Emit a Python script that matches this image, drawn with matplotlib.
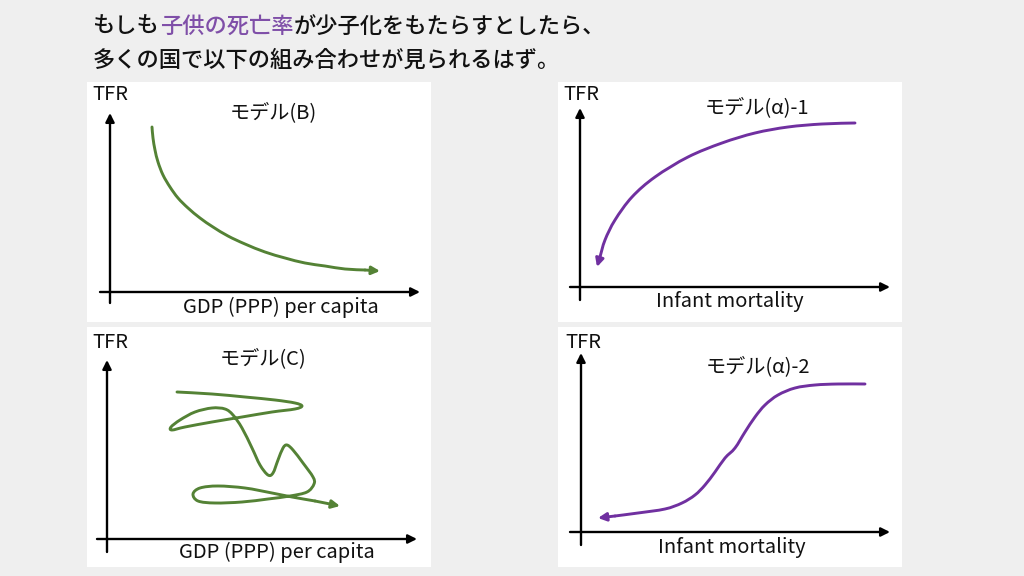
import matplotlib
matplotlib.use('Agg')
import matplotlib.pyplot as plt
from matplotlib.path import Path
from matplotlib.patches import PathPatch

plt.rcParams['font.family'] = ['Noto Sans CJK JP', 'DejaVu Sans']

BG = '#efefef'
GREEN = '#548235'
PURPLE = '#7030a0'

title_1 = ['もしも', '子供の死亡率', 'が少子化をもたらすとしたら、']
title_2 = '多くの国で以下の組み合わせが見られるはず。'

# モデル(B): smooth decline
b_x = [65, 66, 68, 71, 76, 83, 91, 101, 113, 126, 141, 158, 178, 198, 218, 238, 258, 278, 293]
b_y = [195, 184, 172, 160, 147, 135, 124, 114, 104, 95, 86, 78, 70, 64, 59, 56, 53, 52, 51]

# モデル(α)-1: concave curve, arrow at the low end
a1_x = [297, 264, 230, 197, 164, 130, 97, 74, 57, 47, 42, 39]
a1_y = [199, 198, 195, 189, 179, 165, 145, 125, 102, 82, 65, 55]

# モデル(C): tangled path
c_x = [90, 125, 158, 188, 208, 215, 208, 185, 155, 125, 98, 85, 84, 93, 108, 125, 138, 146,
       155, 165, 173, 181, 186, 191, 196, 200, 206, 216, 226, 227, 220, 203, 181, 155, 128,
       111, 106, 113, 131, 158, 185, 205, 228, 253]
c_y = [175, 173, 170, 167, 164, 161, 158, 155, 150, 145, 140, 137, 140, 147, 155, 159, 158, 152,
       139, 119, 102, 92, 94, 107, 119, 122, 117, 104, 90, 83, 75, 71, 68, 65, 64,
       66, 73, 79, 81, 79, 74, 70, 66, 61]

# モデル(α)-2: S-curve, arrow at the low end
a2_x = [307, 280, 257, 237, 220, 207, 197, 187, 177, 167, 157, 147, 137, 124, 107, 80, 57, 40]
a2_y = [183, 183, 182, 179, 172, 162, 150, 135, 119, 109, 95, 82, 72, 64, 58, 54, 51, 49]

panels = [
    # box (left, top) in px, title, x label, curve, colour, axis layout, text positions
    dict(box=(87, 82), title='モデル(B)', xlabel='GDP (PPP) per capita', x=b_x, y=b_y, color=GREEN,
         yax=(23, 19, 209), xax=(30, 13, 333), tfr=(5, 228), tpos=(186, 209), lpos=(194, 15)),
    dict(box=(558, 82), title='モデル(α)-1', xlabel='Infant mortality', x=a1_x, y=a1_y, color=PURPLE,
         yax=(22, 22, 214), xax=(35, 12, 332), tfr=(5, 227), tpos=(199, 214), lpos=(172, 20)),
    dict(box=(87, 327), title='モデル(C)', xlabel='GDP (PPP) per capita', x=c_x, y=c_y, color=GREEN,
         yax=(20, 15, 207), xax=(28, 10, 330), tfr=(5, 225), tpos=(176, 208), lpos=(190, 15)),
    dict(box=(558, 327), title='モデル(α)-2', xlabel='Infant mortality', x=a2_x, y=a2_y, color=PURPLE,
         yax=(23, 22, 214), xax=(35, 12, 332), tfr=(7, 225), tpos=(200, 200), lpos=(174, 20)),
]


def smooth_path(xs, ys):
    # Catmull-Rom through the points, drawn as cubic bezier segments
    pts = list(zip(xs, ys))
    verts = [pts[0]]
    codes = [Path.MOVETO]
    for i in range(len(pts) - 1):
        p0 = pts[i - 1] if i > 0 else pts[i]
        p1 = pts[i]
        p2 = pts[i + 1]
        p3 = pts[i + 2] if i + 2 < len(pts) else pts[i + 1]
        c1 = (p1[0] + (p2[0] - p0[0]) / 6, p1[1] + (p2[1] - p0[1]) / 6)
        c2 = (p2[0] - (p3[0] - p1[0]) / 6, p2[1] - (p3[1] - p1[1]) / 6)
        verts += [c1, c2, p2]
        codes += [Path.CURVE4] * 3
    return Path(verts, codes)


W, H = 1024, 576
PW, PH = 344, 240

fig = plt.figure(figsize=(W / 100, H / 100), dpi=100)
fig.patch.set_facecolor(BG)

for p in panels:
    left, top = p['box']
    ax = fig.add_axes([left / W, (H - top - PH) / H, PW / W, PH / H])
    ax.set_facecolor('white')
    ax.set_xlim(0, PW)
    ax.set_ylim(0, PH)
    ax.set_xticks([])
    ax.set_yticks([])
    for s in ax.spines.values():
        s.set_visible(False)

    # axes with arrow heads
    yx, y0, y1 = p['yax']
    xy, x0, x1 = p['xax']
    axis_arrow = dict(arrowstyle='-|>', color='black', lw=1.7, mutation_scale=13, shrinkA=0, shrinkB=0)
    ax.annotate('', xy=(yx, y1), xytext=(yx, y0), arrowprops=axis_arrow)
    ax.annotate('', xy=(x1, xy), xytext=(x0, xy), arrowprops=axis_arrow)

    # curve
    ax.add_patch(PathPatch(smooth_path(p['x'][:-1], p['y'][:-1]), facecolor='none',
                           edgecolor=p['color'], lw=2.1, capstyle='round', joinstyle='round'))
    ax.annotate('', xy=(p['x'][-1], p['y'][-1]), xytext=(p['x'][-2], p['y'][-2]),
                arrowprops=dict(arrowstyle='-|>', color=p['color'], lw=2.1, mutation_scale=12,
                                shrinkA=0, shrinkB=0))

    ax.text(p['tfr'][0], p['tfr'][1], 'TFR', ha='left', va='center', fontsize=14.5, color='#111111')
    ax.text(p['tpos'][0], p['tpos'][1], p['title'], ha='center', va='center', fontsize=14.5,
            color='#111111')
    ax.text(p['lpos'][0], p['lpos'][1], p['xlabel'], ha='center', va='center', fontsize=14.5,
            color='#111111')

# title, with the middle part in purple
renderer = fig.canvas.get_renderer()
x = 93 / W
colors = ['#111111', '#7f4fa8', '#111111']
for part, c in zip(title_1, colors):
    t = fig.text(x, 1 - 26 / H, part, ha='left', va='center', fontsize=16, color=c,
                 fontweight='medium')
    bb = t.get_window_extent(renderer=renderer)
    x = bb.x1 / W
fig.text(93 / W, 1 - 60 / H, title_2, ha='left', va='center', fontsize=16, color='#111111',
         fontweight='medium')

fig.savefig('out.png', dpi=100, facecolor=BG)
